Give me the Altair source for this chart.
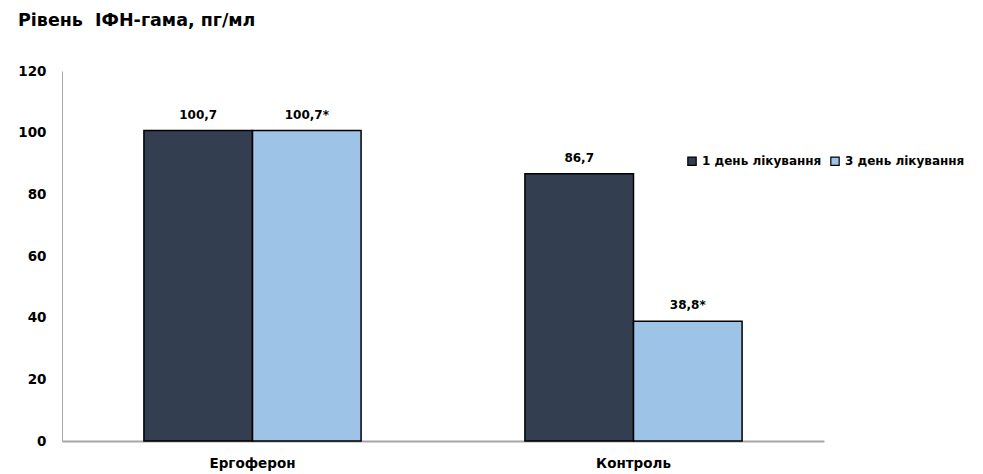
import altair as alt
import pandas as pd

groups = ["Ергоферон", "Ергоферон", "Контроль", "Контроль"]
series = ["1 день лікування", "3 день лікування", "1 день лікування", "3 день лікування"]
values = [100.7, 100.7, 86.7, 38.8]
labels = ["100,7", "100,7*", "86,7", "38,8*"]

df = pd.DataFrame({"group": groups, "series": series, "value": values, "label": labels})

FONT = "DejaVu Sans"
series_order = ["1 день лікування", "3 день лікування"]
colors = ["#333F50", "#9DC3E6"]

x = alt.X("group:N", sort=["Ергоферон", "Контроль"],
          scale=alt.Scale(paddingInner=0.43, paddingOuter=0.215),
          axis=alt.Axis(title=None, labelAngle=0, ticks=False, domainColor="#a6a6a6",
                        domainWidth=2, labelFont=FONT, labelFontWeight="bold",
                        labelFontSize=13.5, labelColor="#000000", labelPadding=15))
xo = alt.XOffset("series:N", sort=series_order, scale=alt.Scale(paddingInner=0, paddingOuter=0))
y = alt.Y("value:Q", scale=alt.Scale(domain=[0, 120]),
          axis=alt.Axis(title=None, values=[0, 20, 40, 60, 80, 100, 120], grid=False, ticks=False,
                        domainColor="#a6a6a6", labelFont=FONT, labelFontWeight="bold",
                        labelFontSize=13.5, labelColor="#000000", labelPadding=16))

bars = alt.Chart(df).mark_bar(stroke="#000000", strokeWidth=1.5).encode(
    x=x, xOffset=xo, y=y,
    color=alt.Color("series:N", sort=series_order,
                    scale=alt.Scale(domain=series_order, range=colors),
                    legend=alt.Legend(title=None, orient="none", legendX=624, legendY=84,
                                      direction="horizontal", symbolType="square",
                                      symbolSize=70, symbolStrokeColor="#000000",
                                      symbolStrokeWidth=1.2, labelFont=FONT,
                                      labelFontWeight="bold", labelFontSize=12,
                                      labelColor="#000000", columnPadding=6,
                                      labelOffset=4, labelLimit=200)),
)

text = alt.Chart(df).mark_text(font=FONT, fontWeight="bold", fontSize=12, baseline="bottom",
                               dy=-9, color="#000000").encode(
    x=x, xOffset=xo, y=y, text="label:N"
)

chart = (bars + text).properties(
    width=762, height=370,
    title=alt.TitleParams("Рівень\u00a0 ІФН-гама, пг/мл", anchor="start", frame="group", dx=-44,
                          offset=35, font=FONT, fontSize=17.5, fontWeight="bold", color="#000000"),
    autosize=alt.AutoSizeParams(type="none"),
    padding={"left": 54, "top": 63, "right": 151, "bottom": 30},
).configure_view(stroke=None)

chart.save("out.html", embed_options={"renderer": "svg", "actions": False})
